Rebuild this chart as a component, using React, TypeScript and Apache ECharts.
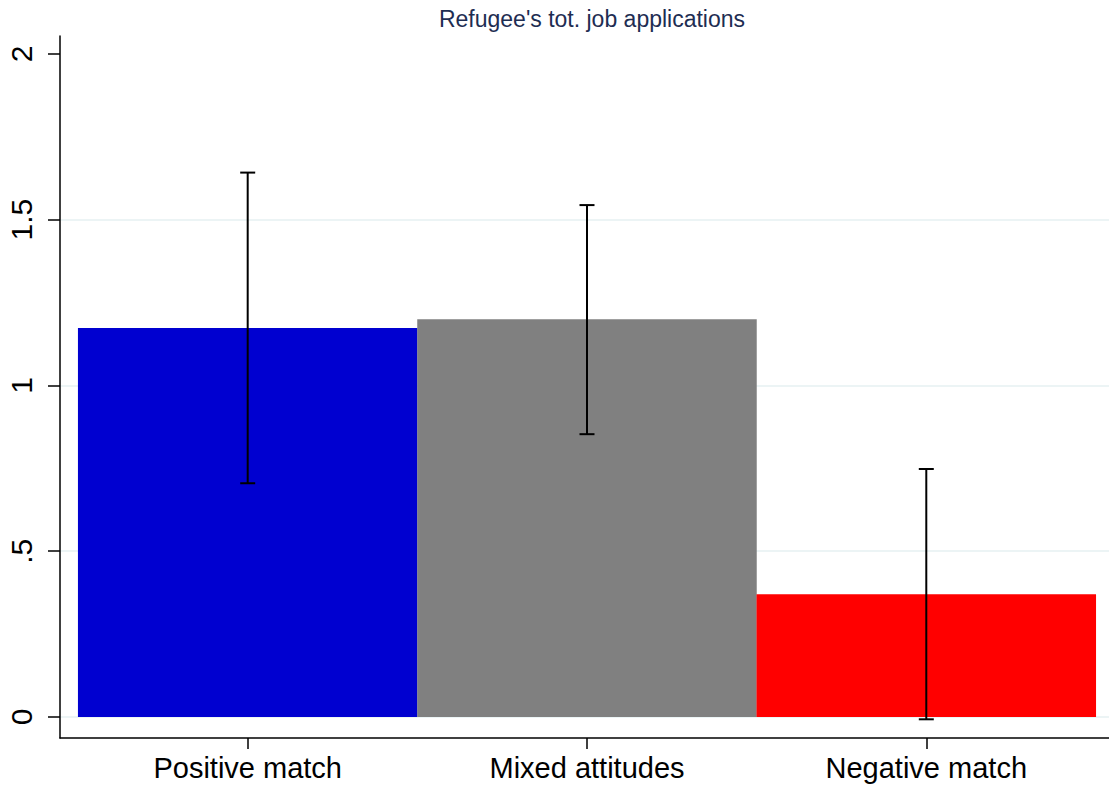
import React, { useEffect, useRef } from "react";
import * as echarts from "echarts";

const categories = ["Positive match", "Mixed attitudes", "Negative match"];
const positions = [1, 2, 3];
const means = [1.173, 1.2, 0.37];
const ciLow = [0.705, 0.853, -0.007];
const ciHigh = [1.642, 1.544, 0.748];
const barColors = ["#0000d0", "#808080", "#ff0000"];
const yTicks = [0, 0.5, 1, 1.5, 2];
const yTickLabels = ["0", ".5", "1", "1.5", "2"];
const gridValues = [0, 0.5, 1, 1.5];
const titleText = "Refugee's tot. job applications";

const FONT = '"Liberation Sans", Arial, Helvetica, sans-serif';

export default function App() {
  const ref = useRef<HTMLDivElement>(null);
  useEffect(() => {
    if (!ref.current) return;
    const chart = echarts.init(ref.current, null, { renderer: "svg" });
    const option: any = {
      animation: false,
      backgroundColor: "#ffffff",
      title: {
        text: titleText,
        left: 587,
        top: 2,
        textAlign: "center",
        textStyle: { fontFamily: FONT, fontSize: 23, fontWeight: "normal", color: "#1e2d52" },
      },
      grid: { left: 60, right: 0, top: 36, bottom: 50, containLabel: false },
      xAxis: {
        type: "value",
        min: 0.4468,
        max: 3.5385,
        axisLine: { show: true, onZero: false, lineStyle: { color: "#000", width: 1.5 } },
        axisTick: { show: true, length: 11, customValues: positions, lineStyle: { color: "#000", width: 1.5 } },
        axisLabel: {
          show: true,
          customValues: positions,
          margin: 15,
          fontFamily: FONT,
          fontSize: 29,
          color: "#000",
          formatter: (v: number) => categories[positions.indexOf(Math.round(v))] ?? "",
        },
        splitLine: { show: false },
      },
      yAxis: {
        type: "value",
        min: -0.0634,
        max: 2.054,
        axisLine: { show: true, onZero: false, lineStyle: { color: "#000", width: 1.5 } },
        axisTick: { show: true, length: 12, customValues: yTicks, lineStyle: { color: "#000", width: 1.5 } },
        axisLabel: {
          show: true,
          customValues: yTicks,
          rotate: 90,
          margin: 24,
          fontFamily: FONT,
          fontSize: 30,
          color: "#000",
          formatter: (v: number) => {
            const i = yTicks.findIndex((t) => Math.abs(t - v) < 1e-6);
            return i >= 0 ? yTickLabels[i] : "";
          },
        },
        splitLine: { show: false },
      },
      series: [
        {
          type: "line",
          data: [],
          z: 0,
          silent: true,
          markLine: {
            silent: true,
            z: 0,
            zlevel: 0,
            symbol: ["none", "none"],
            label: { show: false },
            lineStyle: { color: "#e6f0f2", width: 1.5, type: "solid" },
            data: gridValues.map((v) => ({ yAxis: v })),
          },
        },
        {
          type: "bar",
          z: 5,
          barWidth: 339.5,
          data: positions.map((p, i) => ({
            value: [p, means[i]],
            itemStyle: { color: barColors[i] },
          })),
        },
        {
          type: "custom",
          z: 6,
          data: positions.map((p, i) => [p, ciLow[i], ciHigh[i]]),
          encode: { x: 0, y: [1, 2] },
          renderItem: (params: any, api: any) => {
            const x = api.value(0);
            const lo = api.coord([x, api.value(1)]);
            const hi = api.coord([x, api.value(2)]);
            const hw = 7.5;
            const style = { stroke: "#000", lineWidth: 2 };
            return {
              type: "group",
              children: [
                { type: "line", shape: { x1: lo[0], y1: lo[1], x2: hi[0], y2: hi[1] }, style },
                { type: "line", shape: { x1: hi[0] - hw, y1: hi[1], x2: hi[0] + hw, y2: hi[1] }, style },
                { type: "line", shape: { x1: lo[0] - hw, y1: lo[1], x2: lo[0] + hw, y2: lo[1] }, style },
              ],
            };
          },
        },
      ],
    };
    chart.setOption(option);
    return () => chart.dispose();
  }, []);
  return (
    <div
      ref={ref}
      style={{ position: "absolute", left: 0, top: 0, width: 1109, height: 788, background: "#fff" }}
    />
  );
}
